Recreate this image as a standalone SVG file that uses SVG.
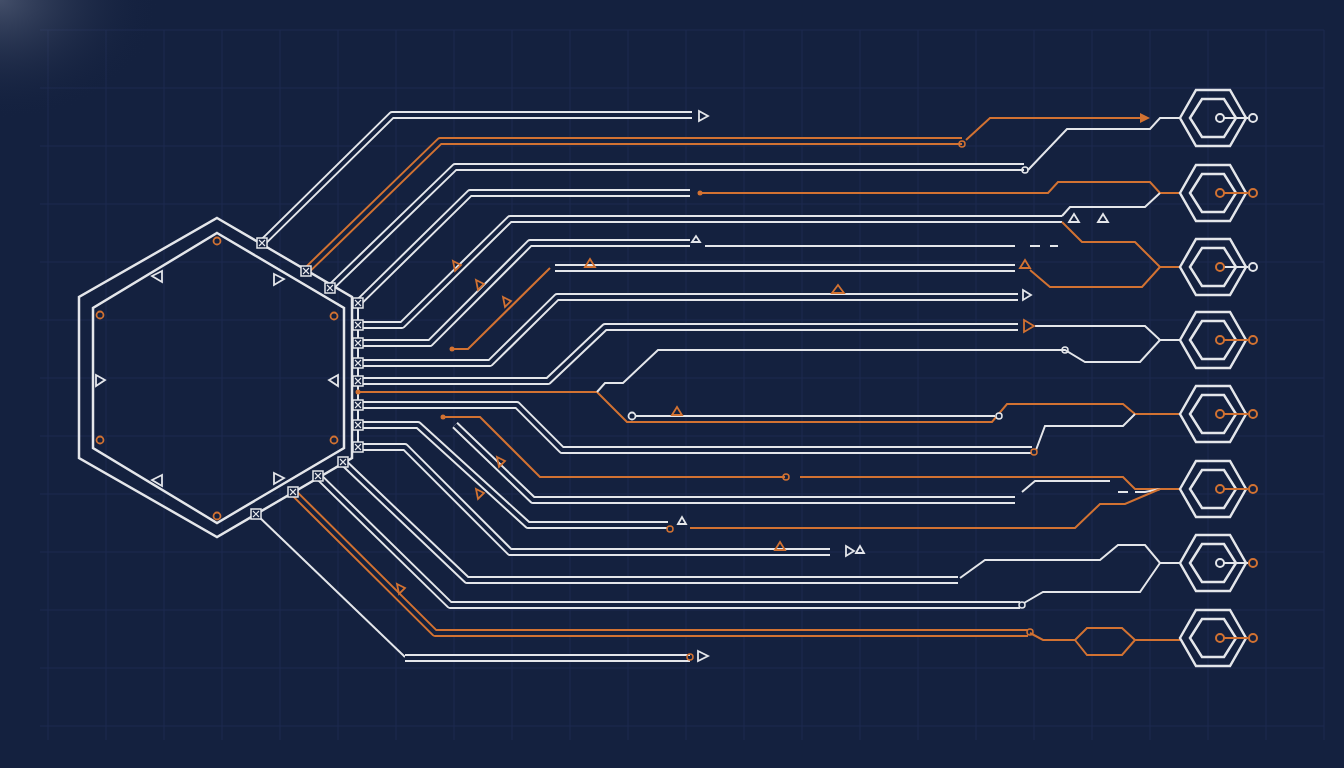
<svg xmlns="http://www.w3.org/2000/svg" width="1344" height="768" viewBox="0 0 1344 768">
<defs>
<style>
.w{fill:none;stroke:#e4e6ea;stroke-width:2}
.o{fill:none;stroke:#d27232;stroke-width:2}
.wd{fill:none;stroke:#e4e6ea;stroke-width:8;stroke-linejoin:round}
.od{fill:none;stroke:#d27232;stroke-width:8;stroke-linejoin:round}
.g{fill:none;stroke:#14213f;stroke-width:4;stroke-linejoin:round}
.grid{stroke:#1c2b50;stroke-width:1}
.hx{fill:none;stroke:#e4e6ea;stroke-width:2.5}
.tw{fill:none;stroke:#e4e6ea;stroke-width:1.8}
.to{fill:none;stroke:#d27232;stroke-width:1.8}
</style>
<radialGradient id="glow" cx="0" cy="0" r="1">
<stop offset="0" stop-color="#8a93a8" stop-opacity="0.4"/>
<stop offset="1" stop-color="#14213f" stop-opacity="0"/>
</radialGradient>
<g id="pad"><rect x="-5" y="-5" width="10" height="10" fill="#14213f" stroke="#e4e6ea" stroke-width="1.5"/><path d="M-3,-3 L3,3 M3,-3 L-3,3" stroke="#e4e6ea" stroke-width="1.2"/></g>
<g id="hex"><polygon class="hx" points="-33,0 -17,-28 17,-28 33,0 17,28 -17,28"/><polygon class="hx" points="-23,0 -11,-19 11,-19 23,0 11,19 -11,19"/></g>
</defs>
<rect width="1344" height="768" fill="#14213f"/>
<g id="grid">
<path class="grid" d="M48,30V740M106,30V740M164,30V740M222,30V740M280,30V740M338,30V740M396,30V740M454,30V740M512,30V740M570,30V740M628,30V740M686,30V740M744,30V740M802,30V740M860,30V740M918,30V740M976,30V740M1034,30V740M1092,30V740M1150,30V740M1208,30V740M1266,30V740M1324,30V740"/>
<path class="grid" d="M40,30H1324M40,88H1324M40,146H1324M40,204H1324M40,262H1324M40,320H1324M40,378H1324M40,436H1324M40,494H1324M40,552H1324M40,610H1324M40,668H1324M40,726H1324"/>
</g>
<rect width="160" height="120" fill="url(#glow)"/>
<g id="connectors">
<path class="wd" d="M262,243L392,115H692"/><path class="g" d="M262,243L392,115H692"/>
<path class="od" d="M306,271L440,141H962"/><path class="g" d="M306,271L440,141H962"/>
<path class="o" d="M966,140L990,118H1140"/><polygon points="1140,113 1150,118 1140,123" fill="#d27232"/>
<path class="wd" d="M330,288L455,167H1024"/><path class="g" d="M330,288L455,167H1024"/>
<path class="w" d="M1028,170L1067,129H1150L1160,118H1180"/>
<path class="wd" d="M358,303L470,193H690"/><path class="g" d="M358,303L470,193H690"/>
<path class="o" d="M700,193H1048L1058,182H1150L1160,193H1180"/>
<path class="wd" d="M358,325H402L510,219H1062"/><path class="g" d="M358,325H402L510,219H1062"/>
<path class="w" d="M1062,216L1070,207H1145L1160,193"/>
<path class="o" d="M1062,222L1082,242H1135L1160,267H1180M1160,267L1142,287H1050L1030,270"/>
<path class="wd" d="M358,343H430L530,243H690"/><path class="g" d="M358,343H430L530,243H690"/>
<path class="w" d="M705,246H1015M1030,246H1040M1050,246H1058"/>
<path class="o" d="M452,349H468L550,268"/>
<path class="wd" d="M358,363H490L557,297H1018"/><path class="g" d="M358,363H490L557,297H1018"/>
<path class="wd" d="M555,268H1015"/><path class="g" d="M555,268H1015"/>
<path class="wd" d="M358,381H548L605,327H1018"/><path class="g" d="M358,381H548L605,327H1018"/>
<path class="w" d="M1035,326H1145L1160,340H1180"/>
<path class="o" d="M358,392H597L627,422H992L1007,404H1123L1135,414H1180"/>
<path class="w" d="M597,392L605,383H623L658,350H1065L1085,362H1140L1160,340"/>
<path class="w" d="M636,416H995"/><circle cx="632" cy="416" r="3.5" fill="#14213f" stroke="#e4e6ea" stroke-width="1.8"/><circle cx="999" cy="416" r="3" fill="#14213f" stroke="#e4e6ea" stroke-width="1.5"/>
<path class="wd" d="M358,405H517L562,450H1032"/><path class="g" d="M358,405H517L562,450H1032"/>
<path class="w" d="M1036,450L1045,426H1123L1135,414"/>
<path class="wd" d="M358,425H418L528,525H668"/><path class="g" d="M358,425H418L528,525H668"/>
<path class="o" d="M443,417H480L540,477H785M800,477H1123L1135,489H1180"/>
<path class="wd" d="M455,425L533,500H1015"/><path class="g" d="M455,425L533,500H1015"/>
<path class="w" d="M1022,492L1035,481H1110M1118,492H1128M1135,492H1145L1160,489"/>
<path class="o" d="M690,528H1075L1100,504H1125L1160,489"/>
<path class="wd" d="M358,447H405L510,552H830"/><path class="g" d="M358,447H405L510,552H830"/>
<path class="wd" d="M343,462L467,580H958"/><path class="g" d="M343,462L467,580H958"/>
<path class="w" d="M960,578L985,560H1100L1118,545H1145L1160,563H1180"/>
<path class="wd" d="M318,476L450,605H1020"/><path class="g" d="M318,476L450,605H1020"/>
<path class="w" d="M1024,603L1043,592H1140L1160,563"/>
<path class="od" d="M293,492L435,633H1028"/><path class="g" d="M293,492L435,633H1028"/>
<path class="o" d="M1030,633L1043,640H1075L1087,628H1122L1135,640H1180M1075,640L1087,655H1122L1135,640"/>
<path class="w" d="M256,514L405,657"/>
<path class="wd" d="M405,658H690"/><path class="g" d="M405,658H690"/>
<path class="w" d="M358,298V452"/>
</g>
<g id="markers">
<polygon class="tw" points="699,111 708,116 699,121"/>
<polygon class="tw" points="1023,290 1031,295 1023,300"/>
<polygon class="to" points="1024,320 1034,326 1024,332"/>
<polygon class="tw" points="698,651 708,656 698,661"/>
<polygon class="tw" points="846,546 854,551 846,556"/>
<polygon class="tw" points="856,553 860,546 864,553"/>
<polygon class="tw" points="1069,222 1074,214 1079,222"/>
<polygon class="tw" points="1098,222 1103,214 1108,222"/>
<polygon class="tw" points="692,242 696,236 700,242"/>
<polygon class="tw" points="678,524 682,517 686,524"/>
<polygon class="to" points="832,293 838,285 844,293"/>
<polygon class="to" points="585,267 590,259 595,267"/>
<polygon class="to" points="672,415 677,407 682,415"/>
<polygon class="to" points="775,550 780,542 785,550"/>
<polygon class="to" points="1020,268 1025,260 1030,268"/>
<polygon class="to" points="453,261 461,265 455,271"/>
<polygon class="to" points="476,280 484,284 478,290"/>
<polygon class="to" points="503,297 511,301 505,307"/>
<polygon class="to" points="497,457 505,461 499,467"/>
<polygon class="to" points="476,489 484,493 478,499"/>
<polygon class="to" points="397,584 405,588 399,594"/>
<circle cx="962" cy="144" r="3" fill="none" stroke="#d27232" stroke-width="1.5"/>
<circle cx="1025" cy="170" r="3" fill="none" stroke="#e4e6ea" stroke-width="1.5"/>
<circle cx="700" cy="193" r="2.5" fill="#d27232"/>
<circle cx="1065" cy="350" r="3" fill="none" stroke="#e4e6ea" stroke-width="1.5"/>
<circle cx="1034" cy="452" r="3" fill="none" stroke="#d27232" stroke-width="1.5"/>
<circle cx="786" cy="477" r="3" fill="none" stroke="#d27232" stroke-width="1.5"/>
<circle cx="443" cy="417" r="2.5" fill="#d27232"/>
<circle cx="452" cy="349" r="2.5" fill="#d27232"/>
<circle cx="670" cy="529" r="3" fill="none" stroke="#d27232" stroke-width="1.5"/>
<circle cx="1022" cy="605" r="3" fill="none" stroke="#e4e6ea" stroke-width="1.5"/>
<circle cx="1030" cy="632" r="3" fill="none" stroke="#d27232" stroke-width="1.5"/>
<circle cx="690" cy="657" r="3" fill="none" stroke="#d27232" stroke-width="1.5"/>
<circle cx="358" cy="392" r="2.5" fill="#d27232"/>
</g>
<g id="core">
<polygon class="hx" points="217,218 352,297 352,458 217,537 79,458 79,297"/>
<polygon class="hx" points="217,233 344,308 344,448 217,523 93,448 93,308"/>
<polygon class="tw" points="162,271 152,276 162,282"/>
<polygon class="tw" points="274,274 284,279 274,285"/>
<polygon class="tw" points="96,375 105,380 96,386"/>
<polygon class="tw" points="338,375 329,380 338,386"/>
<polygon class="tw" points="162,475 152,480 162,486"/>
<polygon class="tw" points="274,473 284,478 274,484"/>
<g fill="none" stroke="#d27232" stroke-width="1.8"><circle cx="217" cy="241" r="3.5"/><circle cx="100" cy="315" r="3.5"/><circle cx="334" cy="316" r="3.5"/><circle cx="100" cy="440" r="3.5"/><circle cx="334" cy="440" r="3.5"/><circle cx="217" cy="516" r="3.5"/></g>
</g>
<g id="pads">
<use href="#pad" x="262" y="243"/><use href="#pad" x="306" y="271"/><use href="#pad" x="330" y="288"/><use href="#pad" x="358" y="303"/>
<use href="#pad" x="358" y="325"/><use href="#pad" x="358" y="343"/><use href="#pad" x="358" y="363"/><use href="#pad" x="358" y="381"/>
<use href="#pad" x="358" y="405"/><use href="#pad" x="358" y="425"/><use href="#pad" x="358" y="447"/><use href="#pad" x="343" y="462"/>
<use href="#pad" x="318" y="476"/><use href="#pad" x="293" y="492"/><use href="#pad" x="256" y="514"/>
</g>
<g id="node1"><use href="#hex" x="1213" y="118"/><path class="w" d="M1224,118H1248"/><circle cx="1220" cy="118" r="4" fill="#14213f" stroke="#e4e6ea" stroke-width="2"/><circle cx="1253" cy="118" r="4" fill="#14213f" stroke="#e4e6ea" stroke-width="2"/></g>
<g id="node2"><use href="#hex" x="1213" y="193"/><path class="o" d="M1224,193H1248"/><circle cx="1220" cy="193" r="4" fill="#14213f" stroke="#d27232" stroke-width="2"/><circle cx="1253" cy="193" r="4" fill="#14213f" stroke="#d27232" stroke-width="2"/></g>
<g id="node3"><use href="#hex" x="1213" y="267"/><path class="w" d="M1224,267H1248"/><circle cx="1220" cy="267" r="4" fill="#14213f" stroke="#d27232" stroke-width="2"/><circle cx="1253" cy="267" r="4" fill="#14213f" stroke="#e4e6ea" stroke-width="2"/></g>
<g id="node4"><use href="#hex" x="1213" y="340"/><path class="o" d="M1224,340H1248"/><circle cx="1220" cy="340" r="4" fill="#14213f" stroke="#d27232" stroke-width="2"/><circle cx="1253" cy="340" r="4" fill="#14213f" stroke="#d27232" stroke-width="2"/></g>
<g id="node5"><use href="#hex" x="1213" y="414"/><path class="o" d="M1224,414H1248"/><circle cx="1220" cy="414" r="4" fill="#14213f" stroke="#d27232" stroke-width="2"/><circle cx="1253" cy="414" r="4" fill="#14213f" stroke="#d27232" stroke-width="2"/></g>
<g id="node6"><use href="#hex" x="1213" y="489"/><path class="o" d="M1224,489H1248"/><circle cx="1220" cy="489" r="4" fill="#14213f" stroke="#d27232" stroke-width="2"/><circle cx="1253" cy="489" r="4" fill="#14213f" stroke="#d27232" stroke-width="2"/></g>
<g id="node7"><use href="#hex" x="1213" y="563"/><path class="w" d="M1224,563H1248"/><circle cx="1220" cy="563" r="4" fill="#14213f" stroke="#e4e6ea" stroke-width="2"/><circle cx="1253" cy="563" r="4" fill="#14213f" stroke="#d27232" stroke-width="2"/></g>
<g id="node8"><use href="#hex" x="1213" y="638"/><path class="o" d="M1224,638H1248"/><circle cx="1220" cy="638" r="4" fill="#14213f" stroke="#d27232" stroke-width="2"/><circle cx="1253" cy="638" r="4" fill="#14213f" stroke="#d27232" stroke-width="2"/></g>
</svg>
